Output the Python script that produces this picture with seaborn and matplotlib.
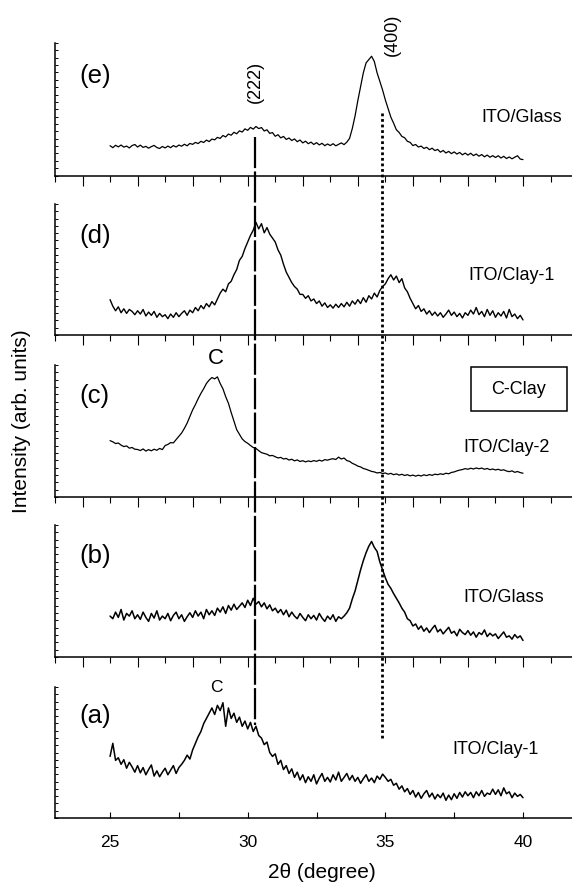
import numpy as np
import pandas as pd
import matplotlib
matplotlib.use("Agg")
import matplotlib.pyplot as plt
import seaborn as sns
from matplotlib.patches import Rectangle
from matplotlib.ticker import MultipleLocator

# ---- XRD traces, 2theta = 25..40 deg in 0.1 deg steps (arb. units, 0-100 per panel) ----
ito_glass_e = [22.5, 21.0, 22.8, 21.6, 23.0, 21.4, 22.2, 20.8, 22.6, 23.4,
               21.5, 22.9, 21.2, 22.0, 20.6, 21.8, 22.7, 21.1, 20.4, 21.9,
               20.8, 22.2, 21.0, 22.6, 21.5, 23.0, 22.1, 23.6, 22.4, 24.2,
               23.5, 25.0, 24.1, 25.8, 24.9, 26.7, 25.6, 27.5, 26.9, 28.8,
               28.0, 30.2, 29.1, 31.3, 30.4, 32.6, 31.5, 33.7, 32.8, 35.2,
               34.1, 36.3, 35.0, 37.0, 35.4, 36.2, 33.6, 34.5, 31.8, 32.4,
               29.6, 30.8, 28.4, 29.5, 27.2, 28.3, 26.4, 27.6, 25.5, 26.8,
               24.6, 25.9, 24.0, 25.2, 23.4, 24.8, 23.1, 24.3, 22.5, 23.8,
               22.6, 24.0, 22.4, 23.5, 24.6, 23.3, 25.2, 28.0, 35.5, 45.0,
               56.5, 67.0, 77.5, 85.0, 87.5, 90.0, 86.0, 77.5, 71.0, 64.5,
               57.0, 50.5, 44.0, 39.5, 34.5, 32.5, 29.5, 28.5, 25.8, 25.0,
               22.6, 23.4, 21.5, 22.2, 20.4, 21.3, 19.5, 20.6, 18.8, 19.7,
               17.6, 18.9, 17.0, 18.2, 16.5, 17.8, 16.2, 17.4, 15.6, 16.9,
               15.4, 16.8, 15.0, 16.2, 14.6, 15.8, 14.1, 15.4, 13.8, 15.0,
               13.6, 14.9, 13.2, 14.5, 12.8, 14.0, 12.6, 13.8, 14.9, 12.4,
               12.0]

ito_clay1_d = [27.0, 22.0, 18.5, 21.5, 17.0, 20.0, 16.5, 19.5, 18.0, 15.5,
               18.5, 16.0, 19.5, 14.5, 17.5, 15.0, 18.0, 13.5, 16.5, 14.0,
               15.5, 12.5, 16.0, 13.5, 17.0, 14.0, 16.5, 18.5, 15.0, 19.0,
               17.0, 21.0, 18.5, 22.5, 20.0, 24.0, 21.5, 25.5, 23.0, 27.5,
               32.0, 35.0, 33.0, 39.0, 41.0, 46.0, 50.0, 57.0, 60.0, 66.0,
               71.0, 76.0, 80.0, 86.0, 81.0, 85.0, 78.0, 82.0, 77.0, 74.0,
               71.0, 65.0, 61.0, 54.0, 48.0, 44.0, 40.0, 37.0, 35.0, 31.0,
               31.0, 28.0, 30.0, 26.0, 27.5, 24.0, 26.0, 22.0, 24.5, 21.0,
               23.0, 20.5, 23.5, 21.0, 24.0, 21.5, 25.0, 22.0, 26.0, 23.5,
               27.0, 24.0, 28.5, 25.0, 30.0, 27.5, 32.0, 29.0, 34.0, 37.0,
               39.0, 43.0, 46.0, 42.0, 45.0, 40.0, 43.0, 36.0, 33.0, 28.0,
               24.0, 20.0, 22.5, 18.0, 20.0, 16.0, 18.5, 15.0, 17.5, 14.5,
               17.0, 13.5, 16.0, 19.0, 15.0, 17.5, 14.0, 16.5, 13.0, 17.0,
               15.0, 19.0, 16.0, 21.0, 15.5, 18.0, 14.0, 19.5, 15.0, 18.5,
               13.5, 17.0, 14.5, 18.0, 13.0, 19.5, 14.0, 16.0, 12.5, 15.0,
               11.5]

ito_clay2_c = [42.7, 41.8, 40.5, 40.9, 39.3, 38.2, 38.7, 37.0, 37.5, 36.2,
               36.0, 35.2, 36.4, 34.8, 35.9, 35.0, 36.2, 35.4, 36.8, 35.9,
               39.0, 39.8, 41.2, 41.0, 43.5, 46.0, 48.5, 52.0, 56.0, 61.0,
               66.0, 70.0, 74.5, 78.5, 82.0, 86.0, 88.6, 90.5, 89.5, 91.0,
               86.0, 82.0, 76.0, 71.0, 64.0, 57.5, 51.0, 47.5, 44.0, 42.0,
               40.7, 39.0, 37.5, 36.8, 35.1, 33.6, 33.0, 32.4, 31.2, 31.5,
               30.5, 29.6, 30.0, 28.8, 29.2, 28.0, 28.6, 27.4, 28.1, 26.9,
               27.5, 26.6, 27.3, 26.8, 27.6, 27.0, 27.9, 27.2, 28.3, 27.9,
               28.6, 29.0, 28.4, 30.2, 28.8, 29.5, 27.6, 27.0, 25.5, 24.6,
               23.4, 22.8, 21.6, 21.0, 20.2, 19.4, 19.0, 18.2, 18.6, 17.8,
               18.2, 17.3, 17.9, 16.9, 17.5, 16.6, 17.2, 16.3, 16.9, 16.0,
               16.6, 15.8, 16.5, 15.9, 16.8, 16.2, 17.0, 16.4, 17.3, 16.9,
               17.6, 17.1, 18.0, 17.6, 18.6, 19.0, 19.8, 20.4, 20.8, 21.5,
               21.0, 21.8, 21.2, 22.0, 21.4, 21.9, 21.0, 21.6, 20.7, 21.2,
               20.5, 21.0, 20.2, 20.6, 19.7, 19.2, 19.8, 18.7, 19.3, 18.5,
               18.0]

ito_glass_b = [31.0, 29.0, 34.0, 30.0, 36.0, 28.0, 33.0, 31.0, 35.0, 29.0,
               32.0, 28.5, 34.0, 30.0, 27.0, 33.0, 29.5, 35.0, 28.0, 31.0,
               29.0, 33.0, 27.5, 31.5, 34.0, 29.0, 32.0, 27.0, 30.5, 33.5,
               30.0, 35.0, 31.0, 34.0, 29.0, 36.0, 32.0, 35.0, 31.5, 37.0,
               34.0, 38.0, 33.0, 39.0, 35.5, 40.0, 36.0, 38.5, 41.0, 37.5,
               43.0, 39.0, 44.5, 40.0, 42.0, 38.0, 41.0, 36.5, 39.5, 35.0,
               37.0, 33.5, 36.0, 32.0, 35.5, 30.5, 34.0, 31.0, 29.0, 33.0,
               30.0, 27.5, 32.0, 29.0, 31.5, 28.0, 33.0, 29.5, 27.0, 31.0,
               28.5, 32.0, 27.0, 30.5, 29.0, 31.0, 33.5, 37.0, 44.0, 50.0,
               58.0, 66.0, 73.0, 79.0, 84.0, 87.5, 83.0, 80.0, 72.0, 66.0,
               60.0, 55.0, 52.0, 48.0, 44.5, 41.0, 37.0, 34.0, 29.0, 27.5,
               23.5, 25.0, 21.0, 23.5, 19.5, 22.0, 18.5, 21.5, 24.0, 19.0,
               21.0, 17.5, 20.0, 22.5, 18.0, 19.5, 16.0, 21.0, 18.5, 17.0,
               20.0, 16.5, 19.0, 15.0, 18.5, 17.0, 20.5, 15.5, 18.0, 16.0,
               17.5, 14.0, 16.5, 19.0, 15.0, 16.0, 13.5, 17.0, 14.5, 16.0,
               12.5]

ito_clay1_a = [47.0, 57.0, 44.0, 46.0, 41.0, 44.5, 38.0, 42.5, 39.0, 35.0,
               40.0, 34.5, 38.5, 33.0, 37.0, 40.5, 32.0, 36.0, 31.5, 35.0,
               38.0, 33.0, 36.5, 40.0, 34.0, 38.5, 41.0, 44.0, 48.0, 45.0,
               52.0, 57.0, 62.0, 66.0, 72.0, 76.0, 80.0, 84.0, 79.0, 86.0,
               82.0, 88.0, 70.0, 84.0, 76.0, 80.0, 73.0, 77.0, 70.0, 74.0,
               68.0, 73.0, 66.0, 70.0, 63.0, 61.0, 56.0, 58.0, 50.0, 47.0,
               49.0, 41.0, 44.0, 37.0, 40.0, 34.0, 37.5, 31.0, 35.0, 29.0,
               33.0, 27.0, 31.5, 28.0, 33.0, 26.0, 30.5, 34.0, 28.0, 31.0,
               27.5, 33.0, 29.0, 35.0, 28.0, 31.0, 34.0, 29.0, 32.5, 28.0,
               31.0, 26.5, 30.0, 33.0, 28.0, 30.5, 27.0, 32.0, 29.5, 33.5,
               31.0, 28.0, 29.5, 25.0, 26.5, 22.0, 24.5, 20.0, 22.5, 18.0,
               21.0, 16.0, 19.5, 15.0, 18.5, 21.0, 16.0, 19.0, 14.5, 18.0,
               15.5, 19.0, 13.5, 17.5, 14.0, 18.5, 15.0, 19.5, 16.0, 20.0,
               17.0, 19.5, 15.5, 20.0, 17.0, 21.0, 16.5, 19.0, 18.0, 22.0,
               18.0, 21.5, 17.0, 23.0, 18.5, 20.0, 15.5, 19.0, 16.5, 18.0,
               15.5]

panel_tags = ["(e)", "(d)", "(c)", "(b)", "(a)"]
sample_names = ["ITO/Glass", "ITO/Clay-1", "ITO/Clay-2", "ITO/Glass", "ITO/Clay-1"]
traces = [ito_glass_e, ito_clay1_d, ito_clay2_c, ito_glass_b, ito_clay1_a]
x_ticks = [25, 30, 35, 40]
peak_222 = 30.27
peak_400 = 34.89
clay_peak = 28.85

# ---- layout (pixels) ----
W, H = 572, 885
x_left, x_right = 55, 572
panel_top = [43, 204, 365, 525, 687]
panel_bot = [175.5, 335, 497, 657, 818]
line_w = [0.9, 1.0, 0.9, 1.1, 1.1]
tag_y = [76, 236, 396, 556, 716]
name_xy = [(481, 118), (468, 275), (463, 447), (463, 597), (452, 750)]
xlim = (23, 41.78)

sns.set_style("ticks")
plt.rcParams['font.family'] = ['Liberation Sans', 'DejaVu Sans']
plt.rcParams.update({"text.color": "black", "axes.edgecolor": "black",
                     "xtick.color": "black", "ytick.color": "black",
                     "axes.labelcolor": "black"})

fig = plt.figure(figsize=(W / 100, H / 100), dpi=100)

def fx(px):
    return px / W

def fy(py):
    return 1 - py / H

for i, y in enumerate(traces):
    ax = fig.add_axes([fx(x_left), fy(panel_bot[i]), (x_right - x_left) / W,
                       (panel_bot[i] - panel_top[i]) / H])
    df = pd.DataFrame({"two_theta": np.linspace(25, 40, len(y)), "intensity": y})
    sns.lineplot(data=df, x="two_theta", y="intensity", ax=ax, color="black",
                 lw=line_w[i], estimator=None)
    ax.set_xlim(*xlim)
    ax.set_ylim(0, 100)
    ax.set_xlabel("")
    ax.set_ylabel("")
    sns.despine(ax=ax)
    for s in ["left", "bottom"]:
        ax.spines[s].set_linewidth(1.1)
    ax.set_yticks(np.linspace(0, 100, 19))
    ax.set_yticklabels([])
    ax.tick_params(axis="y", direction="in", length=2, width=0.7)
    if i == len(traces) - 1:
        ax.set_xticks(x_ticks)
        ax.xaxis.set_minor_locator(MultipleLocator(2.5))
        ax.tick_params(axis="x", which="both", direction="in", length=4, width=0.8,
                       labelsize=12.5, pad=12)
    else:
        ax.xaxis.set_major_locator(MultipleLocator(2))
        ax.xaxis.set_minor_locator(MultipleLocator(1))
        ax.tick_params(axis="x", which="major", direction="out", length=7, width=0.8)
        ax.tick_params(axis="x", which="minor", direction="out", length=4, width=0.8)
        ax.set_xticklabels([])
    fig.text(fx(79), fy(tag_y[i]), panel_tags[i], fontsize=18.5, ha="left", va="center")
    fig.text(fx(name_xy[i][0]), fy(name_xy[i][1]), sample_names[i], fontsize=13,
             ha="left", va="center")

# overlay for the reflections running through all panels
ov = fig.add_axes([fx(x_left), 0, (x_right - x_left) / W, 1], zorder=10)
ov.set_xlim(*xlim)
ov.set_ylim(H, 0)
ov.axis("off")
ov.patch.set_alpha(0)
ov.plot([peak_222, peak_222], [137, 725], color="black", lw=1.6, ls=(0, (14, 1.5)))
ov.plot([peak_400, peak_400], [113, 740], color="black", lw=2.0, ls=(0, (1, 1)))
ov.text(peak_222, 82, "(222)", rotation=90, ha="center", va="center", fontsize=13)
ov.text(peak_400 + 0.37, 35, "(400)", rotation=90, ha="center", va="center", fontsize=13)
ov.text(clay_peak, 359, "C", ha="center", va="center", fontsize=16)
ov.text(clay_peak, 688, "C", ha="center", va="center", fontsize=12.5)

# boxed note
fig.add_artist(Rectangle((fx(471), fy(411)), 96 / W, 44 / H, transform=fig.transFigure,
                         fill=False, lw=1.1, color="black"))
fig.text(fx(519), fy(389), "C-Clay", fontsize=13, ha="center", va="center")

fig.text(fx(22), fy(421), "Intensity (arb. units)", rotation=90, fontsize=15,
         ha="center", va="center")
fig.text(fx(322), fy(872), "2\u03b8 (degree)", fontsize=15, ha="center", va="center")

fig.savefig("out.png", dpi=100)
